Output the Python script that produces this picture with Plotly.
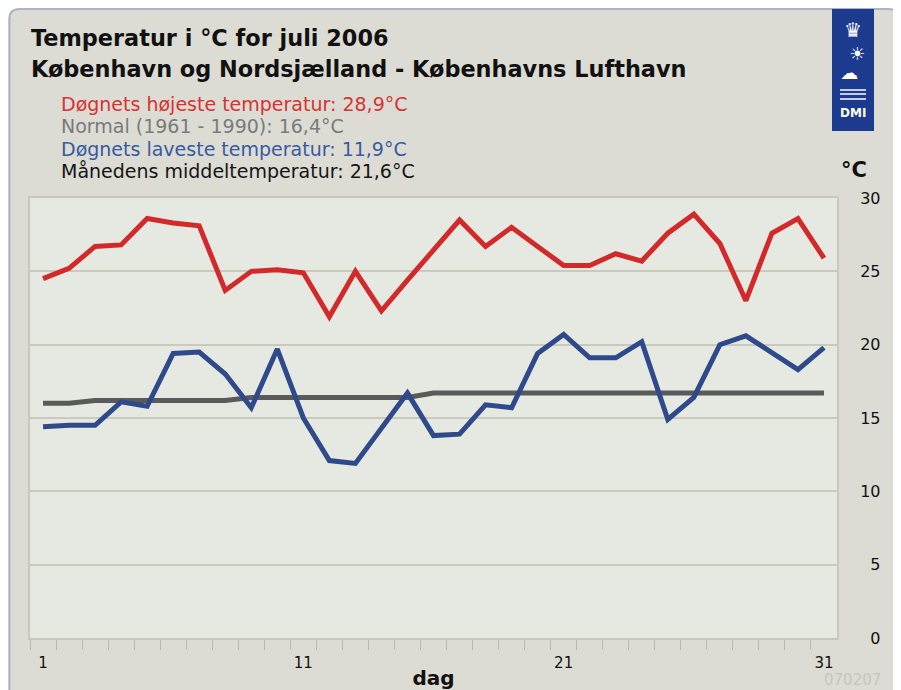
import plotly.graph_objects as go

# ---------------- data ----------------
days = list(range(1, 32))
high = [24.5, 25.2, 26.7, 26.8, 28.6, 28.3, 28.1, 23.7, 25.0, 25.1, 24.9, 21.9, 25.0, 22.3, 24.4, 26.4,
        28.5, 26.7, 28.0, 26.7, 25.4, 25.4, 26.2, 25.7, 27.6, 28.9, 26.9, 23.0, 27.6, 28.6, 25.9]
low = [14.4, 14.5, 14.5, 16.1, 15.8, 19.4, 19.5, 18.0, 15.7, 19.7, 15.0, 12.1, 11.9, 14.3, 16.7, 13.8,
       13.9, 15.9, 15.7, 19.4, 20.7, 19.1, 19.1, 20.2, 14.9, 16.4, 20.0, 20.6, 19.4, 18.3, 19.8]
normal = [16.0, 16.0, 16.2, 16.2, 16.2, 16.2, 16.2, 16.2, 16.4, 16.4, 16.4, 16.4, 16.4, 16.4, 16.4, 16.7,
          16.7, 16.7, 16.7, 16.7, 16.7, 16.7, 16.7, 16.7, 16.7, 16.7, 16.7, 16.7, 16.7, 16.7, 16.7]
y_ticks = [0, 5, 10, 15, 20, 25, 30]
x_ticks = [1, 11, 21, 31]

max_high = "28,9"
normal_mean = "16,4"
min_low = "11,9"
month_mean = "21,6"

# ---------------- layout geometry (figure pixels; page has an 8px body margin) ----------------
OFF = 8
W, H = 893, 682
L, R, T, B = 22, 64, 190, 52
PW, PH = W - L - R, H - T - B


def px(x_page):
    return (x_page - OFF - L) / PW


def py(y_page):
    return (H - B - (y_page - OFF)) / PH


FONT = "DejaVu Sans"
RED = "#d22a2a"
BLUE = "#2f4a8a"
GREY = "#5a5a5a"

fig = go.Figure()
fig.add_trace(go.Scatter(x=days, y=high, mode="lines", line=dict(color=RED, width=5), hoverinfo="skip"))
fig.add_trace(go.Scatter(x=days, y=normal, mode="lines", line=dict(color=GREY, width=5), hoverinfo="skip"))
fig.add_trace(go.Scatter(x=days, y=low, mode="lines", line=dict(color=BLUE, width=5), hoverinfo="skip"))

ann = []
ann.append(dict(text="<b>Temperatur i °C for juli 2006</b>", x=px(29), y=py(38), xanchor="left", yanchor="middle",
                font=dict(size=22.4, color="#111", family=FONT)))
ann.append(dict(text="<b>København og Nordsjælland - Københavns Lufthavn</b>", x=px(29), y=py(69),
                xanchor="left", yanchor="middle", font=dict(size=22.4, color="#111", family=FONT)))
leg = [
    ("Døgnets højeste temperatur: " + max_high + "°C", "#d83232", 104),
    ("Normal (1961 - 1990): " + normal_mean + "°C", "#7a7a7a", 126),
    ("Døgnets laveste temperatur: " + min_low + "°C", "#3a5aa0", 149),
    ("Månedens middeltemperatur: " + month_mean + "°C", "#151515", 171),
]
for t, c, yy in leg:
    ann.append(dict(text=t, x=px(59), y=py(yy), xanchor="left", yanchor="middle",
                    font=dict(size=19, color=c, family=FONT)))
ann.append(dict(text="<b>°C</b>", x=px(854), y=py(170), xanchor="center", yanchor="middle",
                font=dict(size=21, color="#111", family=FONT)))
ann.append(dict(text="070207", x=px(852), y=py(680), xanchor="center", yanchor="middle",
                font=dict(size=15, color="#c6c6be", family=FONT)))
# logo glyphs
ann.append(dict(text="♛", x=px(853), y=py(30), xanchor="center", yanchor="middle",
                font=dict(size=20, color="white", family=FONT)))
ann.append(dict(text="☀", x=px(857), y=py(54), xanchor="center", yanchor="middle",
                font=dict(size=18, color="white", family=FONT)))
ann.append(dict(text="☁", x=px(849), y=py(72), xanchor="center", yanchor="middle",
                font=dict(size=18, color="white", family=FONT)))
ann.append(dict(text="<b>DMI</b>", x=px(853), y=py(113), xanchor="center", yanchor="middle",
                font=dict(size=12, color="white", family=FONT)))
for a in ann:
    a.update(xref="paper", yref="paper", showarrow=False)

shapes = []
# white corners / right strip outside rounded panel
path = (f"M {px(898)},{py(8)} L {px(902)},{py(8)} L {px(902)},{py(691)} L {px(898)},{py(691)} "
        f"L {px(898)},{py(18)} Q {px(898)},{py(8)} {px(888)},{py(8)} Z "
        f"M {px(8)},{py(8)} L {px(20)},{py(8)} Q {px(9.5)},{py(8)} {px(9.5)},{py(18)} L {px(8)},{py(18)} Z")
shapes.append(dict(type="path", path=path, xref="paper", yref="paper", fillcolor="white",
                   line=dict(width=0), layer="above"))
border = (f"M {px(9.5)},{py(691)} L {px(9.5)},{py(18)} Q {px(9.5)},{py(9)} {px(20)},{py(9)} "
          f"L {px(888)},{py(9)} Q {px(898)},{py(9)} {px(898)},{py(18)} L {px(898)},{py(691)}")
shapes.append(dict(type="path", path=border, xref="paper", yref="paper",
                   line=dict(color="#a9b5c5", width=2), layer="above"))
# logo
shapes.append(dict(type="rect", xref="paper", yref="paper", x0=px(832), x1=px(874), y0=py(9), y1=py(131),
                   fillcolor="#1c3a8e", line=dict(width=0), layer="above"))
for yy in (90, 94, 99):
    shapes.append(dict(type="line", xref="paper", yref="paper", x0=px(840), x1=px(866), y0=py(yy), y1=py(yy),
                       line=dict(color="white", width=1.5), layer="above"))

fig.update_layout(
    width=W, height=H,
    margin=dict(l=L, r=R, t=T, b=B, pad=0, autoexpand=False),
    paper_bgcolor="#dcdcd4",
    plot_bgcolor="#e6e8e2",
    showlegend=False,
    annotations=ann,
    shapes=shapes,
    font=dict(family=FONT, color="#111"),
    xaxis=dict(
        range=[0.5, 31.5], tickmode="array", tickvals=x_ticks, ticktext=[str(v) for v in x_ticks],
        ticks="", showgrid=False, zeroline=False, automargin=False,
        showline=True, linecolor="#c8c8bc", linewidth=2, mirror=True,
        tickfont=dict(size=15, color="#111", family=FONT),
        ticklabelstandoff=10,
        minor=dict(tickmode="array", tickvals=[d - 0.5 for d in days], ticks="outside", ticklen=10,
                   tickcolor="#b9b9b0", tickwidth=1, showgrid=False),
        title=dict(text="<b>dag</b>", font=dict(size=20, color="#111", family=FONT), standoff=4),
        fixedrange=True,
    ),
    yaxis=dict(
        range=[0, 30], side="right", tickmode="array", tickvals=y_ticks,
        ticktext=[("\u2007" + str(v)) if v < 10 else str(v) for v in y_ticks],
        ticks="", showgrid=True, gridcolor="#c9c9bd", gridwidth=2, zeroline=False, automargin=False,
        showline=True, linecolor="#c8c8bc", linewidth=2, mirror=True,
        tickfont=dict(size=16, color="#111", family=FONT),
        ticklabelstandoff=18,
        fixedrange=True,
    ),
)

fig.write_html("out.html")
